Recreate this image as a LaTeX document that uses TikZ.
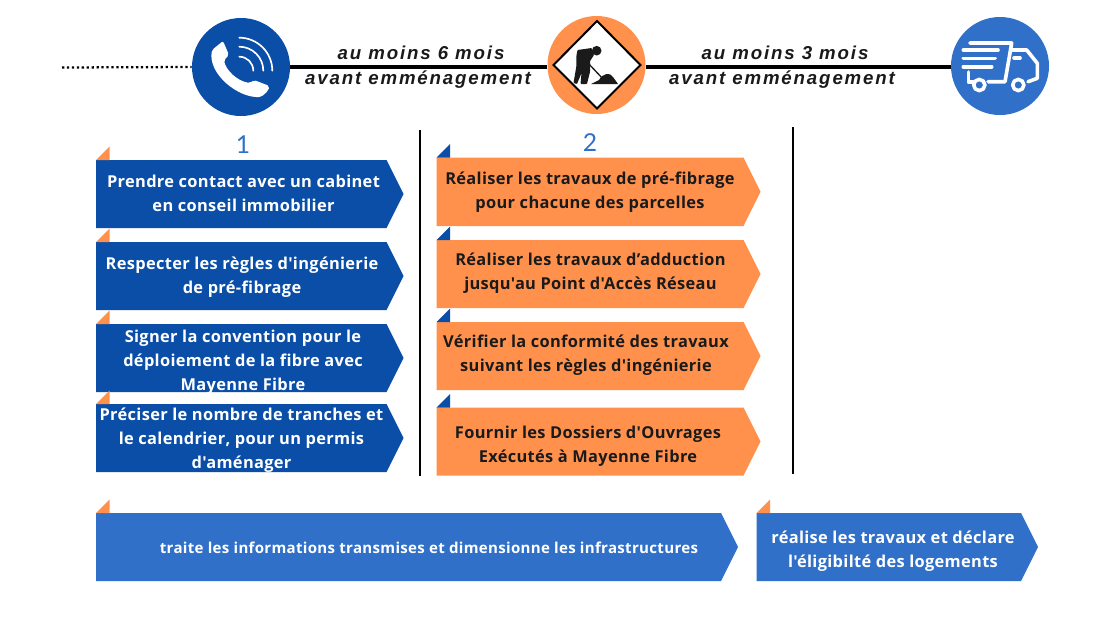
\documentclass[tikz,border=0pt]{standalone}
\usepackage{fontspec}
\setmainfont{Lato}
\newfontfamily\boxfont[LetterSpace=2.0,Ligatures=NoCommon]{Open Sans Bold}
\newfontfamily\timefont[LetterSpace=10.0]{Liberation Sans Bold Italic}
\definecolor{navy}{HTML}{0A4EA8}
\definecolor{midblue}{HTML}{3070C8}
\definecolor{orange}{HTML}{FF914D}
\definecolor{ink}{HTML}{1A1A1A}
\tikzset{
  disc/.style={circle,minimum size=73.5pt,inner sep=0pt},
  rail/.style={black,line width=2.5pt},
  label/.style={align=center,font=\boxfont\fontsize{12.3}{18}\selectfont,inner sep=0pt,yshift=-0.75pt},
  timelabel/.style={font=\timefont\fontsize{14}{16}\selectfont,text=ink,inner sep=0pt},
  num/.style={font=\fontsize{18.5}{20}\selectfont,text=midblue,inner sep=0pt},
  sep/.style={black,line width=1.6pt},
  icon/.style={white,line width=2.7pt,line cap=round,line join=round},
  thinicon/.style={white,line width=1.25pt,line cap=round}
}
% \chev{x0}{y0}{x1}{y1}{fill}{flag colour}
\newcommand{\chev}[6]{%
  \fill[#5] (#1,#2) -- ({#3-17},#2) -- (#3,{(#2+#4)/2}) -- ({#3-17},#4) -- (#1,#4) -- cycle;
  \fill[#6] (#1,#2) -- ({#1+13.5},{#2-13.5}) -- ({#1+13.5},#2) -- cycle;
}
\begin{document}
\begin{tikzpicture}[x=0.75pt,y=-0.75pt]
\useasboundingbox (0,0) rectangle (1100,618);
\fill[white] (0,0) rectangle (1100,618);

% timeline
\node[disc,fill=navy] (phone) at (241,67) {};
\node[disc,fill=orange] (work) at (596.5,65) {};
\node[disc,fill=midblue] (truck) at (1000,66) {};
\coordinate (dotstart) at (62,67.5);
\draw[black,line width=1.7pt,dotted] (dotstart) -- (phone.west);
\draw[rail] (phone.east) -- (phone.east -| work.west);
\draw[rail] (phone.east -| work.east) -- (phone.east -| truck.west);

\node[timelabel] (t1) at (421,53) {au moins 6 mois};
\node[timelabel] (t2) at (418,79.5) {avant emménagement};
\node[timelabel] (t3) at (785,53) {au moins 3 mois};
\node[timelabel] (t4) at (782,79.5) {avant emménagement};

% phone icon
\fill[white,rounded corners=1.5pt] (223,41) -- (229,55) -- (224,60) .. controls (226,70) and (237,81) .. (250,83) -- (254,80) -- (269.5,86) -- (268,91) -- (261,97) .. controls (238,98) and (208,74) .. (212,50) -- cycle;
\draw[thinicon] (239.3,37.7) arc[start angle=90,end angle=0,radius=24.75pt];
\draw[thinicon] (239.3,46.7) arc[start angle=90,end angle=0,radius=18pt];
\draw[thinicon] (239.3,56.7) arc[start angle=90,end angle=0,radius=10.5pt];

% roadwork icon
\fill[white,draw=black,line width=1.5pt] (597,21) -- (640.5,65) -- (597,108.5) -- (553.5,65) -- cycle;
\fill[ink] (596.7,50.7) circle[radius=3.6pt];
\fill[ink,rounded corners=0.6pt] (577.5,50) -- (591.7,48) -- (594,55) -- (590,61) -- (590,71.7) -- (587,84) -- (580.5,84) -- (581.5,73) -- (577,84) -- (573.5,83) -- (576.3,66.7) -- (576.5,55) -- cycle;
\draw[ink,line width=1pt] (587,62) -- (604,80);
\fill[ink] (591,84) -- (599,80) .. controls (603,73) and (610,72) .. (613,77) -- (618,84) -- cycle;

% truck icon
\draw[icon] (970,43) -- (1011.7,43) -- (1005,81.7) -- (988,81.7);
\draw[icon] (963.3,50) -- (998,50);
\draw[icon] (963.3,58.3) -- (995,58.3);
\draw[icon] (963.3,66.7) -- (991.7,66.7);
\draw[icon] (968.3,72) -- (968.3,81.7) -- (973,81.7);
\draw[icon] (1011.7,50) -- (1026.7,50) -- (1037.3,63.3) -- (1037.3,78.3) -- (1028,81.7);
\draw[icon] (1014,58) -- (1020,58);
\draw[icon] (979.3,85) circle[radius=4.2pt];
\draw[icon] (1018.3,85) circle[radius=4.2pt];

% numbers
\node[num] (n1) at (243,145) {1};
\node[num] (n2) at (590,143) {2};

% separators
\coordinate (s1a) at (420,130); \coordinate (s1b) at (420,476);
\coordinate (s2a) at (793,127); \coordinate (s2b) at (793,474);
\draw[sep] (s1a) -- (s1b);
\draw[sep] (s2a) -- (s2b);

% column 1
\chev{96}{160}{403.5}{228}{navy}{orange}
\chev{96}{242}{403.5}{310}{navy}{orange}
\chev{96}{324}{403.5}{392}{navy}{orange}
\chev{96}{404}{403.5}{472}{navy}{orange}
\node[label,text=white] (a1) at (243.5,192) {Prendre contact avec un cabinet\\en conseil immobilier};
\node[label,text=white] (a2) at (242,276) {Respecter les règles d'ingénierie\\de pré-fibrage};
\node[label,text=white] (a3) at (243,361) {Signer la convention pour le\\déploiement de la fibre avec\\Mayenne Fibre};
\node[label,text=white] (a4) at (241.5,439) {Préciser le nombre de tranches et\\le calendrier, pour un permis\\d'aménager};

% column 2
\chev{436.5}{157.5}{760.5}{226}{orange}{navy}
\chev{436.5}{240}{760.5}{308}{orange}{navy}
\chev{436.5}{322}{760.5}{390}{orange}{navy}
\chev{436.5}{407.5}{760.5}{475.5}{orange}{navy}
\node[label,text=ink] (b1) at (590,191) {Réaliser les travaux de pré-fibrage\\pour chacune des parcelles};
\node[label,text=ink] (b2) at (590.5,272.5) {Réaliser les travaux d’adduction\\jusqu'au Point d'Accès Réseau};
\node[label,text=ink] (b3) at (586,354) {Vérifier la conformité des travaux\\suivant les règles d'ingénierie};
\node[label,text=ink] (b4) at (588,445) {Fournir les Dossiers d'Ouvrages\\Exécutés à Mayenne Fibre};

% bottom row
\chev{96}{513}{738}{581}{midblue}{orange}
\chev{756.5}{513}{1038}{581}{midblue}{orange}
\node[label,text=white,font=\boxfont\fontsize{11.3}{18}\selectfont] (c1) at (429,547) {traite les informations transmises et dimensionne les infrastructures};
\node[label,text=white] (c2) at (893,550) {réalise les travaux et déclare\\l'éligibilté des logements};
\end{tikzpicture}
\end{document}
